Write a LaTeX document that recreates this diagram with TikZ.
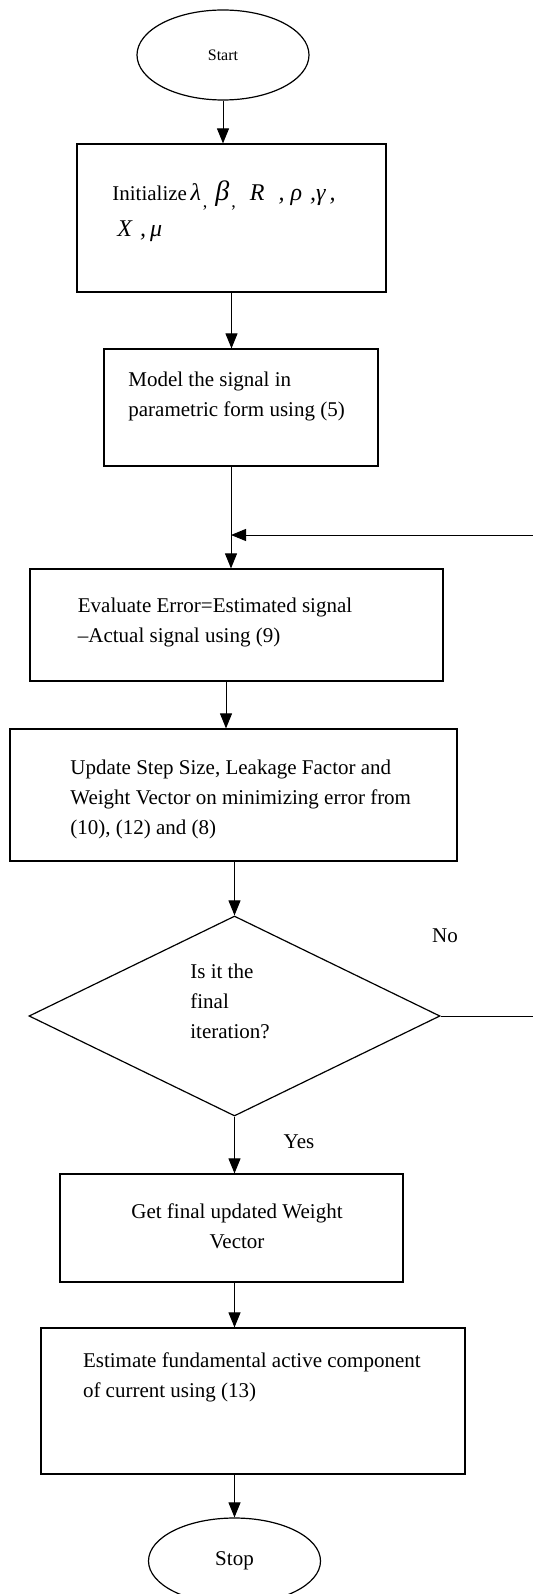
\documentclass[tikz,border=0pt]{standalone}
\usepackage{fontspec}
\setmainfont{Liberation Serif}
\usetikzlibrary{shapes.geometric, arrows.meta}
\newcommand{\mvar}[1]{{\fontsize{12}{12}\selectfont\itshape #1}}
\newcommand{\lowcomma}{\raisebox{-3.5pt}{\fontsize{9}{9}\selectfont ,}}

\begin{document}
\begin{tikzpicture}[x=0.5pt, y=-0.5pt,
		box/.style={draw, line width=0.6pt, rectangle, inner sep=0pt},
		term/.style={draw, line width=0.6pt, ellipse, inner sep=0pt, minimum width=86pt, minimum height=45pt},
		cond/.style={draw, line width=0.6pt, diamond, inner sep=0pt},
		txt/.style={inner sep=0pt, align=left, anchor=north west, font=\fontsize{10.5}{15}\selectfont},
		lbl/.style={inner sep=0pt, font=\fontsize{10.5}{12}\selectfont},
		arr/.style={line width=0.5pt, -{Triangle[length=7.5pt, width=6pt]}}]

	\useasboundingbox (0,0) rectangle (533,1594);

	% terminals
	\node[term, font=\fontsize{8}{10}\selectfont] (start) at (223,55) {Start};
	\node[term, minimum height=43pt, font=\fontsize{10.5}{12}\selectfont] (stop) at (234.5,1561) {Stop};

	% process boxes
	\node[box, minimum width=154.5pt, minimum height=74pt] (init) at (231.5,218) {};
	\node[box, minimum width=137pt, minimum height=58.5pt] (model) at (241,407.5) {};
	\node[box, minimum width=206.5pt, minimum height=56pt] (eval) at (236.5,625) {};
	\node[box, minimum width=223.5pt, minimum height=66pt] (upd) at (233.5,795) {};
	\node[cond, minimum width=205.5pt, minimum height=100pt] (dec) at (234.5,1016) {};
	\node[box, minimum width=171.5pt, minimum height=54pt] (get) at (231.5,1228) {};
	\node[box, minimum width=212pt, minimum height=73pt] (est) at (253,1401) {};

	% box texts
	\node[txt, font=\fontsize{10.5}{18}\selectfont] (initText) at (112,180)
		{Initialize\,\mvar{λ}\hspace{1pt}\lowcomma\hspace{4pt}{\fontsize{14}{14}\selectfont\itshape β}\hspace{1pt}\lowcomma\hspace{7pt}\mvar{R}\hspace{7pt}\mvar{,}\hspace{3pt}\mvar{ρ}\hspace{4pt}\mvar{,}\mvar{γ}\hspace{2pt}\mvar{,}\\
		\hspace{2.5pt}\mvar{X}\hspace{4pt}\mvar{,}\hspace{2pt}\mvar{μ}};
	\node[txt] (modelText) at (128,372) {Model the signal in\\parametric form using (5)};
	\node[txt] (evalText) at (77.5,598) {Evaluate Error=Estimated signal\\–Actual signal using (9)};
	\node[txt] (updText) at (70,760)
		{Update Step Size, Leakage Factor and\\Weight Vector on minimizing error from\\(10), (12) and (8)};
	\node[txt] (decText) at (190,964) {Is it the\\final\\iteration?};
	\node[txt, align=center, anchor=north] (getText) at (237,1203) {Get final updated Weight\\Vector};
	\node[txt] (estText) at (82.6,1352) {Estimate fundamental active component\\of current using (13)};

	% branch labels
	\node[lbl] (noLbl) at (445,936) {No};
	\node[lbl] (yesLbl) at (299,1142) {Yes};

	% loop back
	\coordinate (join) at (231,535);
	\coordinate (fbin) at (533,535);

	\draw[arr] (start.south) -- (start.south |- init.north);
	\draw[arr] (init.south) -- (init.south |- model.north);
	\draw[arr] (join |- model.south) -- (join |- eval.north);
	\draw[arr] (fbin) -- (join);
	\draw[arr] ([xshift=-5.25pt]eval.south) -- ([xshift=-5.25pt]eval.south |- upd.north);
	\draw[arr] (upd.south -| dec.north) -- (dec.north);
	\draw[arr] (dec.south) -- (dec.south |- get.north);
	\draw[line width=0.5pt] (dec.east) -- (dec.east -| fbin);
	\draw[arr] (dec.south |- get.south) -- (dec.south |- est.north);
	\draw[arr] (stop.north |- est.south) -- (stop.north);
\end{tikzpicture}
\end{document}
